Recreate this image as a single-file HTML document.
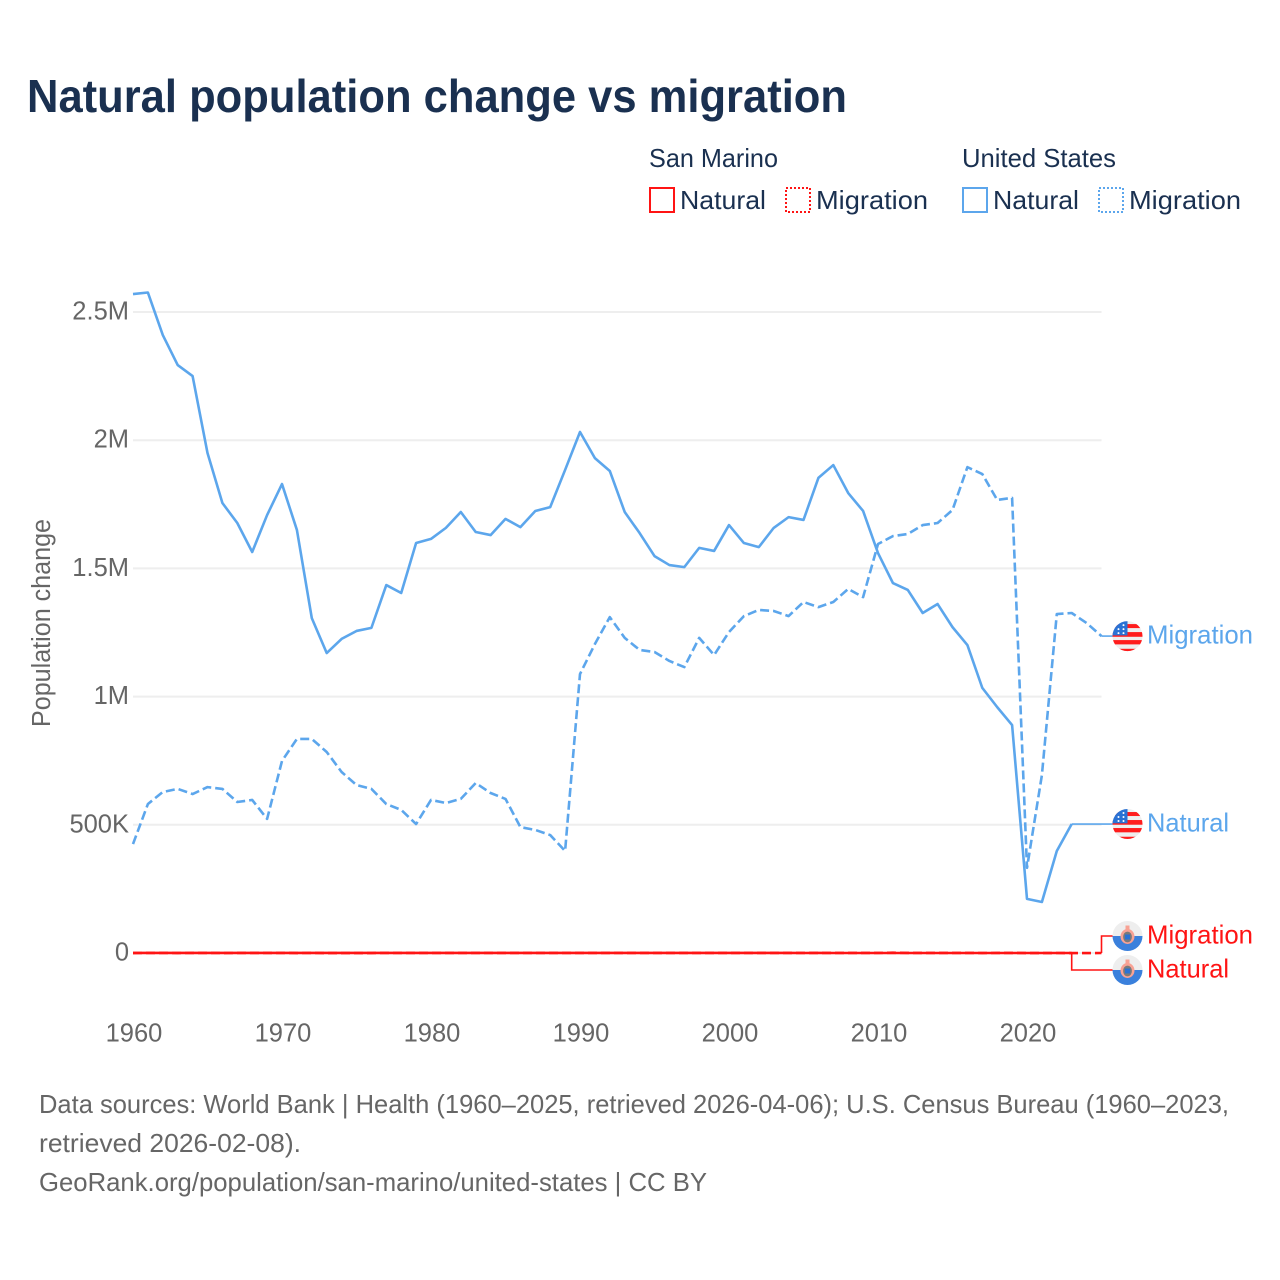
<!DOCTYPE html>
<html lang="en">
<head>
<meta charset="utf-8">
<title>Natural population change vs migration</title>
<style>
html,body{margin:0;padding:0;background:#fff;}
body{width:1280px;height:1280px;overflow:hidden;}
svg{display:block;font-family:"Liberation Sans",sans-serif;}
.leg{font-size:26px;fill:#1a3050;}
.tick{font-size:25.5px;fill:#666;}
.foot{font-size:26px;fill:#666;}
.end{font-size:26px;}
</style>
</head>
<body>
<svg id="chart" width="1280" height="1280" viewBox="0 0 1280 1280" xmlns="http://www.w3.org/2000/svg">
  <defs>
    <clipPath id="flag-clip"><circle cx="0" cy="0" r="15"/></clipPath>
    <g id="us-flag">
      <g clip-path="url(#flag-clip)">
        <rect x="-15" y="-15" width="30" height="30" fill="#eeeeee"/>
        <rect x="-15" y="-12" width="30" height="4" fill="#ff1c1c"/>
        <rect x="-15" y="-4" width="30" height="4.7" fill="#ff1c1c"/>
        <rect x="-15" y="4" width="30" height="4.3" fill="#ff1c1c"/>
        <rect x="-15" y="12.7" width="30" height="3.3" fill="#ff1c1c"/>
        <rect x="-15" y="-15" width="15" height="14.3" fill="#2a72d4"/>
        <circle cx="-9" cy="-7" r="1" fill="#fff"/>
        <circle cx="-4" cy="-7" r="1" fill="#fff"/>
        <circle cx="-4" cy="-11" r="1" fill="#fff"/>
        <circle cx="-9" cy="-3" r="1" fill="#fff"/>
        <circle cx="-4" cy="-3" r="1" fill="#fff"/>
      </g>
    </g>
    <g id="sm-flag">
      <g clip-path="url(#flag-clip)">
        <rect x="-15" y="-15" width="30" height="15" fill="#eeeeee"/>
        <rect x="-15" y="0" width="30" height="15" fill="#3a80dc"/>
        <ellipse cx="0" cy="0.5" rx="7" ry="7.5" fill="#f8a294"/>
        <ellipse cx="0" cy="1" rx="4.4" ry="5.4" fill="#7a7a7a"/>
        <rect x="-2.6" y="-1.5" width="5.2" height="5" fill="#2a72d4"/>
        <rect x="-2" y="-10.5" width="4" height="5" fill="#f8a294"/>
      </g>
    </g>
  </defs>

  <text x="27" y="112" font-size="46" font-weight="700" fill="#1a3050" textLength="820" lengthAdjust="spacingAndGlyphs">Natural population change vs migration</text>

  <g>
    <text class="leg" x="649" y="167" textLength="129" lengthAdjust="spacingAndGlyphs">San Marino</text>
    <text class="leg" x="962" y="167" textLength="154" lengthAdjust="spacingAndGlyphs">United States</text>
    <rect x="650" y="188" width="24" height="24" fill="none" stroke="#ff1414" stroke-width="2"/>
    <text class="leg" x="680" y="209" textLength="86" lengthAdjust="spacingAndGlyphs">Natural</text>
    <rect x="786" y="188" width="24" height="24" fill="none" stroke="#ff1414" stroke-width="2" stroke-dasharray="2 2"/>
    <text class="leg" x="816" y="209" textLength="112" lengthAdjust="spacingAndGlyphs">Migration</text>
    <rect x="963" y="188" width="24" height="24" fill="none" stroke="#5ca6ec" stroke-width="2"/>
    <text class="leg" x="993" y="209" textLength="86" lengthAdjust="spacingAndGlyphs">Natural</text>
    <rect x="1099" y="188" width="24" height="24" fill="none" stroke="#5ca6ec" stroke-width="2" stroke-dasharray="2 2"/>
    <text class="leg" x="1129" y="209" textLength="112" lengthAdjust="spacingAndGlyphs">Migration</text>
  </g>

  <text class="tick" transform="translate(50,623) rotate(-90)" text-anchor="middle" textLength="208" lengthAdjust="spacingAndGlyphs">Population change</text>

  <g id="grid"></g>
  <g id="yticks"></g>
  <g id="xticks"></g>
  <g id="series"></g>
  <g id="endlabels"></g>

  <g>
    <text class="foot" x="39" y="1113" textLength="1190" lengthAdjust="spacingAndGlyphs">Data sources: World Bank | Health (1960–2025, retrieved 2026-04-06); U.S. Census Bureau (1960–2023,</text>
    <text class="foot" x="39" y="1152" textLength="262" lengthAdjust="spacingAndGlyphs">retrieved 2026-02-08).</text>
    <text class="foot" x="39" y="1191" textLength="668" lengthAdjust="spacingAndGlyphs">GeoRank.org/population/san-marino/united-states | CC BY</text>
  </g>
</svg>

<script>
const startYear = 1960;
const xTickYears = [1960, 1970, 1980, 1990, 2000, 2010, 2020];
const yTickValues = [0, 500000, 1000000, 1500000, 2000000, 2500000];
const yTickLabels = ["0", "500K", "1M", "1.5M", "2M", "2.5M"];

const usNatural = [2570000,2576000,2410000,2293000,2250000,1950000,1755000,1677000,1564000,1708000,
  1829000,1650000,1306000,1170000,1225000,1256000,1268000,1435000,1404000,1599000,
  1615000,1658000,1720000,1642000,1630000,1693000,1661000,1724000,1739000,1884000,
  2032000,1930000,1880000,1720000,1638000,1548000,1513000,1505000,1580000,1568000,
  1669000,1599000,1583000,1658000,1700000,1689000,1853000,1903000,1794000,1724000,
  1560000,1443000,1416000,1326000,1361000,1271000,1201000,1034000,959000,889000,
  211000,199000,398000,503000];

const usMigration = [425000,581000,628000,640000,620000,647000,640000,589000,597000,523000,
  749000,835000,835000,784000,706000,655000,640000,581000,558000,503000,
  597000,585000,601000,663000,624000,601000,491000,480000,460000,398000,
  1088000,1205000,1310000,1229000,1182000,1174000,1139000,1115000,1229000,1162000,
  1252000,1314000,1338000,1334000,1314000,1369000,1349000,1369000,1420000,1388000,
  1595000,1626000,1634000,1669000,1677000,1728000,1895000,1868000,1767000,1775000,
  332000,694000,1322000,1326000,1287000,1236000];

const smNatural = [180,210,190,220,200,170,160,190,150,170,
  140,160,120,110,90,100,130,120,110,140,
  100,90,110,120,80,100,90,110,70,100,
  110,90,80,100,70,60,90,70,60,80,
  70,90,60,80,70,50,60,40,50,30,
  40,50,20,30,10,20,-10,10,-20,-30,
  -40,-50,-30,-40];

const smMigration = [-300,150,200,-100,180,240,-60,90,310,120,
  260,-120,350,-240,-310,-200,-90,420,160,240,
  190,100,230,140,110,90,240,180,300,210,
  250,170,320,280,190,310,260,230,200,290,
  340,280,250,230,410,290,260,230,180,320,
  240,1050,360,210,190,270,150,-90,110,130,
  -60,-70,-40,-60,-90,-50];

const xFn = year => 133 + (year - startYear) * 14.9;
const yFn = value => 953 - value * 128.2 / 500000;
const NS = "http://www.w3.org/2000/svg";

function make(tag, parentId) {
  const el = document.createElementNS(NS, tag);
  document.getElementById(parentId).appendChild(el);
  return el;
}

yTickValues.forEach((value, i) => {
  const line = make("line", "grid");
  
  
  line.setAttribute("x1", xFn(1960));
  line.setAttribute("x2", xFn(2025));
  line.setAttribute("y1", yFn(value));
  line.setAttribute("y2", yFn(value));
  line.setAttribute("stroke", "#eeeeee");
  line.setAttribute("stroke-width", "2");
  const label = make("text", "yticks");
  
  
  label.setAttribute("class", "tick");
  label.setAttribute("x", 129);
  label.setAttribute("y", yFn(value) + 7.5);
  label.setAttribute("text-anchor", "end");
  label.textContent = yTickLabels[i];
});

xTickYears.forEach(year => {
  const label = make("text", "xticks");
  
  
  label.setAttribute("class", "tick");
  label.setAttribute("x", xFn(year) + 1);
  label.setAttribute("y", 1041.5);
  label.setAttribute("text-anchor", "middle");
  label.textContent = year;
});

function drawSeries(values, color, dashed, name) {
  const path = make("polyline", "series");
  
  
  const pts = values.map((v, i) => xFn(startYear + i).toFixed(2) + "," + yFn(v).toFixed(2));
  path.setAttribute("points", pts.join(" "));
  path.setAttribute("fill", "none");
  path.setAttribute("stroke", color);
  path.setAttribute("stroke-width", "2.6");
  path.setAttribute("stroke-linejoin", "round");
  if (dashed) path.setAttribute("stroke-dasharray", "9 4");
}

function drawEnd(values, labelY, color, flagId, text, labelWidth, name) {
  const lastX = xFn(startYear + values.length - 1);
  const lastY = yFn(values[values.length - 1]);
  const leader = make("polyline", "endlabels");
  
  
  const mid = Math.abs(lastY - labelY) < 0.5 ? "" : lastX + "," + labelY + " ";
  leader.setAttribute("points", lastX + "," + lastY + " " + mid + "1113," + labelY);
  leader.setAttribute("fill", "none");
  leader.setAttribute("stroke", color);
  leader.setAttribute("stroke-width", "1.6");
  const flag = make("use", "endlabels");
  
  
  flag.setAttribute("href", "#" + flagId);
  flag.setAttribute("transform", "translate(1127.5," + labelY + ")");
  const label = make("text", "endlabels");
  
  
  label.setAttribute("class", "end");
  label.setAttribute("x", 1147);
  label.setAttribute("y", labelY + 7.5);
  label.setAttribute("fill", color);
  label.setAttribute("textLength", labelWidth);
  label.setAttribute("lengthAdjust", "spacingAndGlyphs");
  label.textContent = text;
}

drawSeries(usNatural, "#5ca6ec", false, "line-united-states-natural");
drawSeries(usMigration, "#5ca6ec", true, "line-united-states-migration");
drawSeries(smNatural, "#ff1414", false, "line-san-marino-natural");
drawSeries(smMigration, "#ff1414", true, "line-san-marino-migration");

drawEnd(usMigration, yFn(usMigration[usMigration.length - 1]), "#5ca6ec", "us-flag", "Migration", 106, "end-united-states-migration");
drawEnd(usNatural, yFn(usNatural[usNatural.length - 1]), "#5ca6ec", "us-flag", "Natural", 82, "end-united-states-natural");
drawEnd(smMigration, yFn(0) - 17, "#ff1414", "sm-flag", "Migration", 106, "end-san-marino-migration");
drawEnd(smNatural, yFn(0) + 17, "#ff1414", "sm-flag", "Natural", 82, "end-san-marino-natural");
</script>
</body>
</html>
